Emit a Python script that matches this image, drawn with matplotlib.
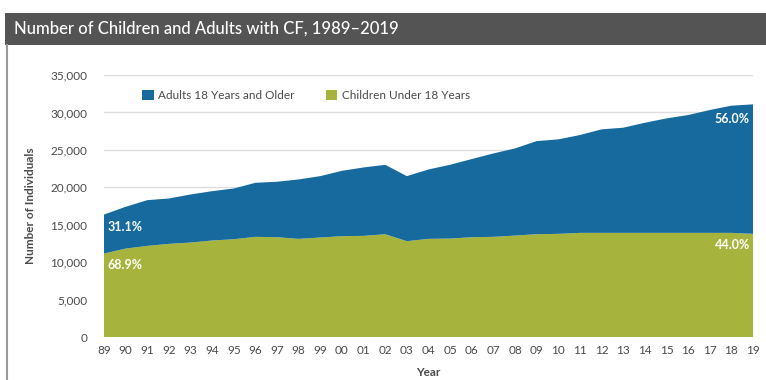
import matplotlib
matplotlib.use("Agg")
import matplotlib.pyplot as plt
from matplotlib.patches import Rectangle
from matplotlib.lines import Line2D

plt.rcParams['font.family'] = ['Lato', 'DejaVu Sans']

years = ["89", "90", "91", "92", "93", "94", "95", "96", "97", "98", "99",
         "00", "01", "02", "03", "04", "05", "06", "07", "08", "09",
         "10", "11", "12", "13", "14", "15", "16", "17", "18", "19"]
totals = [16360, 17390, 18280, 18500, 19040, 19480, 19840, 20600, 20740, 21050, 21490,
          22200, 22650, 23000, 21490, 22380, 23010, 23770, 24520, 25190, 26170,
          26400, 26980, 27740, 27960, 28620, 29200, 29650, 30320, 30900, 31080]
children = [11150, 11810, 12170, 12440, 12620, 12890, 13060, 13380, 13330, 13110, 13290,
            13470, 13510, 13730, 12800, 13110, 13150, 13330, 13380, 13550, 13730,
            13780, 13910, 13910, 13910, 13910, 13910, 13910, 13910, 13910, 13780]
adults = [t - c for t, c in zip(totals, children)]
yticks = [0, 5000, 10000, 15000, 20000, 25000, 30000, 35000]

blue = "#176a9d"
green = "#a6b43d"
gray_txt = "#4a4a4a"

fig = plt.figure(figsize=(7.66, 3.8), dpi=100)

# title bar
fig.patches.append(Rectangle((5 / 766, 1 - 45 / 380), 1, 32 / 380, transform=fig.transFigure,
                             facecolor="#545454", edgecolor="none"))
fig.text(14 / 766, 1 - 29 / 380, "Number of Children and Adults with CF, 1989\u20132019",
         color="white", fontsize=12, fontweight="medium", va="center", ha="left")
fig.lines.append(Line2D([7 / 766, 7 / 766], [0, 1 - 45 / 380], transform=fig.transFigure,
                        color="#9a9a9a", lw=1.5))

ax = fig.add_axes([104 / 766, 43 / 380, 649 / 766, 262 / 380])
x = list(range(len(years)))
ax.stackplot(x, children, adults, colors=[green, blue],
             labels=["Children Under 18 Years", "Adults 18 Years and Older"], lw=0)

ax.set_xlim(0, len(years) - 1)
ax.set_ylim(0, 35000)
ax.set_yticks(yticks)
ax.set_yticklabels([f"{v:,}" for v in yticks])
ax.set_xticks(x)
ax.set_xticklabels(years)
ax.yaxis.grid(True, color="#dddddd", lw=1)
ax.set_axisbelow(True)
for s in ax.spines.values():
    s.set_visible(False)
ax.tick_params(length=0, labelsize=8.5, colors=gray_txt)
ax.tick_params(axis="x", pad=6)
ax.tick_params(axis="y", pad=12)
ax.set_ylabel("Number of Individuals", fontsize=8.5, fontweight="bold", color=gray_txt, labelpad=10)
ax.set_xlabel("Year", fontsize=8.5, fontweight="bold", color=gray_txt, labelpad=8)

handles, labels = ax.get_legend_handles_labels()
ax.legend(handles[::-1], labels[::-1], loc="upper left", bbox_to_anchor=(0.042, 0.985), ncol=2,
          frameon=False, fontsize=8.5, handlelength=1.0, handleheight=1.0, columnspacing=2.6,
          handletextpad=0.4, labelcolor=gray_txt)

# share labels
ax.text(0.15, (totals[0] + children[0]) / 2 + 1000, "31.1%", color="white", fontweight="bold",
        fontsize=9, ha="left", va="center")
ax.text(0.15, children[0] - 1500, "68.9%", color="white", fontweight="bold",
        fontsize=9, ha="left", va="center")
ax.text(len(years) - 1.15, totals[-1] - 2000, "56.0%", color="white", fontweight="bold",
        fontsize=9, ha="right", va="center")
ax.text(len(years) - 1.15, children[-1] - 1500, "44.0%", color="white", fontweight="bold",
        fontsize=9, ha="right", va="center")

fig.savefig("out.png", dpi=100)
